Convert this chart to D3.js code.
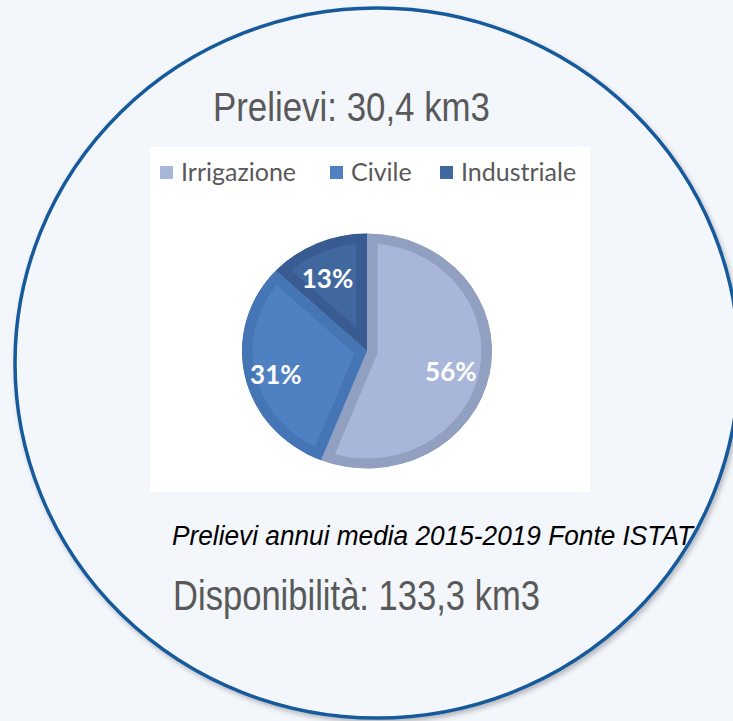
<!DOCTYPE html>
<html>
<head>
<meta charset="utf-8">
<script src="https://cdn.jsdelivr.net/npm/d3@7"></script>
<style>
  html, body { margin: 0; padding: 0; background: #f3f6fb; }
  svg { display: block; }
</style>
</head>
<body>
<div id="chart"></div>
<script>
// data
var categories = ["Irrigazione", "Civile", "Industriale"];
var shares = [56, 31, 13];
var labels = ["56%", "31%", "13%"];
var fillColors = ["#a8b7d9", "#4f80c1", "#41679f"];
var edgeColors = ["#919fc0", "#4575b4", "#385c91"];
var titleText = "Prelievi: 30,4 km3";
var noteText = "Prelievi annui media 2015-2019 Fonte ISTAT";
var bottomText = "Disponibilità: 133,3 km3";

var width = 733, height = 721;

var svg = d3.select("#chart").append("svg")
    .attr("width", width)
    .attr("height", height);

var defs = svg.append("defs");
var shadow = defs.append("filter").attr("id", "shadow")
    .attr("x", "-10%").attr("y", "-10%").attr("width", "120%").attr("height", "120%");
shadow.append("feDropShadow")
    .attr("dx", 2).attr("dy", 3).attr("stdDeviation", 2.5)
    .attr("flood-color", "#000").attr("flood-opacity", 0.25);

svg.append("rect").attr("width", width).attr("height", height).attr("fill", "#f3f6fb");

// big outline ellipse
svg.append("ellipse")
    .attr("cx", 377).attr("cy", 363)
    .attr("rx", 362).attr("ry", 355)
    .attr("fill", "#f3f6fb")
    .attr("stroke", "#175a9c")
    .attr("stroke-width", 3.5)
    .attr("filter", "url(#shadow)");

// no narrow font installed, so squeeze Liberation Sans to the measured width
var sans = "'Liberation Sans', Arial, sans-serif";

svg.append("text")
    .attr("x", 213).attr("y", 121)
    .attr("font-family", sans)
    .attr("font-size", 40)
    .attr("textLength", 277)
    .attr("lengthAdjust", "spacingAndGlyphs")
    .attr("fill", "#595959")
    .text(titleText);

// white chart panel
svg.append("rect")
    .attr("x", 150).attr("y", 147)
    .attr("width", 440).attr("height", 345)
    .attr("fill", "#ffffff");

// legend
var legend = svg.selectAll(".legend")
    .data(categories)
  .enter().append("g")
    .attr("class", "legend")
    .attr("transform", function(d, i) { return "translate(" + [160, 330, 440][i] + ",166)"; });

legend.append("rect")
    .attr("width", 13).attr("height", 13)
    .attr("fill", function(d, i) { return fillColors[i]; });

legend.append("text")
    .attr("x", 21).attr("y", 15)
    .attr("font-family", "Lato, 'Open Sans', sans-serif")
    .attr("font-size", 25)
    .attr("fill", "#595959")
    .text(function(d) { return d; });

// pie
var r = 117.5;
var pieG = svg.append("g")
    .attr("transform", "translate(367,351) scale(1.064,1)");

var pie = d3.pie().sort(null).value(function(d) { return d; });
var arcs = pie(shares);
var arc = d3.arc().innerRadius(0).outerRadius(r);
var labelArc = d3.arc().innerRadius(84).outerRadius(84);

arcs.forEach(function(a, i) {
  defs.append("clipPath").attr("id", "clip" + i)
    .append("path").attr("d", arc(a));
});

pieG.selectAll(".slice")
    .data(arcs)
  .enter().append("path")
    .attr("class", "slice")
    .attr("d", arc)
    .attr("fill", function(d, i) { return fillColors[i]; })
    .attr("stroke", function(d, i) { return edgeColors[i]; })
    .attr("stroke-width", 20)
    .attr("clip-path", function(d, i) { return "url(#clip" + i + ")"; });

svg.append("g")
    .attr("transform", "translate(363,356)")
  .selectAll(".lbl")
    .data(arcs)
  .enter().append("text")
    .attr("class", "lbl")
    .attr("x", function(d) { return labelArc.centroid(d)[0] * 1.064; })
    .attr("y", function(d) { return labelArc.centroid(d)[1]; })
    .attr("dy", "0.36em")
    .attr("text-anchor", "middle")
    .attr("font-family", "Lato, 'Open Sans', sans-serif")
    .attr("font-weight", "bold")
    .attr("font-size", 26)
    .attr("fill", "#ffffff")
    .text(function(d, i) { return labels[i]; });

svg.append("text")
    .attr("x", 172).attr("y", 545)
    .attr("font-family", sans)
    .attr("font-style", "italic")
    .attr("font-size", 27)
    .attr("textLength", 521)
    .attr("lengthAdjust", "spacingAndGlyphs")
    .attr("fill", "#000000")
    .text(noteText);

svg.append("text")
    .attr("x", 173).attr("y", 610)
    .attr("font-family", sans)
    .attr("font-size", 43)
    .attr("textLength", 367)
    .attr("lengthAdjust", "spacingAndGlyphs")
    .attr("fill", "#595959")
    .text(bottomText);
</script>
</body>
</html>
